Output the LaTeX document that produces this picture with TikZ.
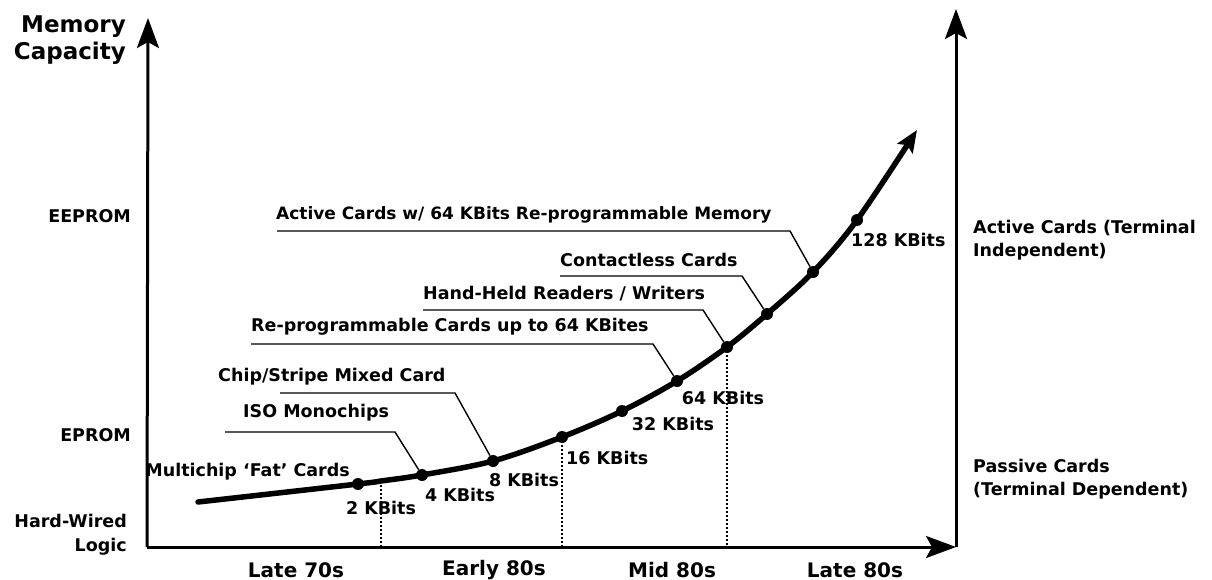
\documentclass[tikz,border=0pt]{standalone}
\usepackage{fontspec}
\newfontfamily\dv{DejaVu Sans}
\usetikzlibrary{arrows.meta}

\begin{document}
\begin{tikzpicture}[x=1pt,y=-1pt,
  axis/.style={line width=3pt,-{Stealth[length=30pt,width=22pt,inset=6pt]}},
  growth/.style={line width=5.5pt,line cap=round,-{Stealth[length=22pt,width=18pt,inset=4pt]}},
  leader/.style={line width=1.4pt},
  guide/.style={line width=2.4pt,dash pattern=on 2pt off 2pt},
  lbl/.style={font={\dv\bfseries\fontsize{17.5}{24}\selectfont},inner sep=0pt},
  ttl/.style={font={\dv\bfseries\fontsize{23}{28}\selectfont},inner sep=0pt,align=right},
  era/.style={font={\dv\bfseries\fontsize{20}{24}\selectfont},inner sep=0pt},
  pt/.style={circle,fill=black,inner sep=0pt,minimum size=12pt}]
\useasboundingbox (0,0) rectangle (1212,580);

% axes
\coordinate (O) at (147,547);
\coordinate (ytop) at (148,18);
\coordinate (xend) at (956,547);
\coordinate (rtop) at (956,9);
\draw[axis] (O) -- (ytop);
\draw[axis] (O) -- (xend);
\draw[axis] (xend) -- (rtop);

% growth curve
\coordinate (c0) at (198,502);
\coordinate (d1) at (358,484);
\coordinate (k2) at (381,481);
\coordinate (d2) at (422,475);
\coordinate (d3) at (493,461);
\coordinate (d4) at (562,437);
\coordinate (d5) at (622,411);
\coordinate (d6) at (677,381);
\coordinate (d7) at (727,347);
\coordinate (d8) at (767,314);
\coordinate (d9) at (813,272);
\coordinate (d10) at (857,220);
\coordinate (tip) at (917,130);
\draw[growth] plot[smooth,tension=0.55] coordinates {(c0) (d1) (k2) (d2) (d3) (d4) (d5) (d6) (d7) (d8) (d9) (d10) (tip)};
\foreach \p in {d1,d2,d3,d4,d5,d6,d7,d8,d9,d10} \node[pt] (n\p) at (\p) {};

% dotted guides down to the time axis
\draw[guide] (k2) -- (k2 |- O);
\draw[guide] (d4) -- (d4 |- O);
\draw[guide] (d7) -- (d7 |- O);

% axis titles
\node[ttl,anchor=base east] (mem) at (126,33) {Memory};
\node[ttl,anchor=base east] (cap) at (126,60) {Capacity};

\node[lbl,anchor=east] (eeprom) at (131,216) {EEPROM};
\node[lbl,anchor=east] (eprom) at (131,435) {EPROM};
\node[lbl,anchor=east] (hw) at (127,521) {Hard-Wired};
\node[lbl,anchor=east] (logic) at (127,547) {Logic};

\node[era] (e1) at (296,570) {Late 70s};
\node[era] (e2) at (494,570) {Early 80s};
\node[era] (e3) at (672,570) {Mid 80s};
\node[era] (e4) at (855,570) {Late 80s};

\node[lbl,anchor=west] (act1) at (973,228) {Active Cards (Terminal};
\node[lbl,anchor=west] (act2) at (973,252) {Independent)};
\node[lbl,anchor=west] (pas1) at (973,466) {Passive Cards};
\node[lbl,anchor=west] (pas2) at (973,491) {(Terminal Dependent)};

% capacity values
\node[lbl] (k2l) at (381,508) {2 KBits};
\node[lbl] (k4l) at (460,495) {4 KBits};
\node[lbl] (k8l) at (524,480) {8 KBits};
\node[lbl,anchor=west] (k16l) at (566,458) {16 KBits};
\node[lbl] (k32l) at (673,424) {32 KBits};
\node[lbl] (k64l) at (723,398) {64 KBits};
\node[lbl,anchor=west] (k128l) at (851,240) {128 KBits};

% milestones with leaders
\node[lbl,anchor=base east] (fat) at (350,476) {Multichip ‘Fat’ Cards};

\node[lbl,anchor=west] (iso) at (243,413) {ISO Monochips};
\coordinate (isoA) at (225,432);
\coordinate (isoB) at (395,432);
\draw[leader] (isoA) -- (isoB) -- (nd2);

\node[lbl,anchor=west] (chip) at (218,377) {Chip/Stripe Mixed Card};
\coordinate (chipA) at (280,393);
\coordinate (chipB) at (455,393);
\draw[leader] (chipA) -- (chipB) -- (nd3);

\node[lbl,anchor=west] (rep) at (251,327) {Re-programmable Cards up to 64 KBites};
\coordinate (repA) at (251,344);
\coordinate (repB) at (653,344);
\draw[leader] (repA) -- (repB) -- (nd6);

\node[lbl,anchor=west] (hand) at (423,294) {Hand-Held Readers / Writers};
\coordinate (handA) at (423,310);
\coordinate (handB) at (703,310);
\draw[leader] (handA) -- (handB) -- (nd7);

\node[lbl,anchor=west] (cont) at (560,260) {Contactless Cards};
\coordinate (contA) at (560,276);
\coordinate (contB) at (742,276);
\draw[leader] (contA) -- (contB) -- (nd8);

\node[lbl,anchor=west,font={\dv\bfseries\fontsize{17}{24}\selectfont}] (actw) at (276,215) {Active Cards w/ 64 KBits Re-programmable Memory};
\coordinate (actA) at (277,231);
\coordinate (actB) at (790,231);
\draw[leader] (actA) -- (actB) -- (nd9);
\end{tikzpicture}
\end{document}
